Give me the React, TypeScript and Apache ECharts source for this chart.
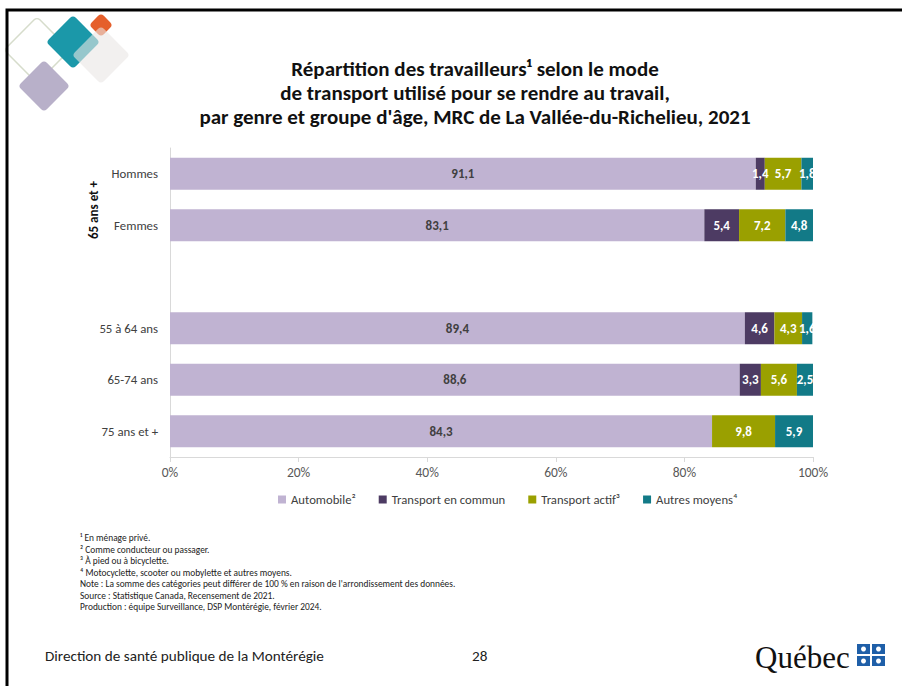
import React, { useEffect, useRef } from "react";
import * as echarts from "echarts";

const categories = ["Hommes", "Femmes", "", "55 à 64 ans", "65-74 ans", "75 ans et +"];
const automobile = [91.1, 83.1, null, 89.4, 88.6, 84.3];
const transportCommun = [1.4, 5.4, null, 4.6, 3.3, null];
const transportActif = [5.7, 7.2, null, 4.3, 5.6, 9.8];
const autresMoyens = [1.8, 4.8, null, 1.6, 2.5, 5.9];
const xTicks = [0, 20, 40, 60, 80, 100];

const seriesNames = ["Automobile²", "Transport en commun", "Transport actif³", "Autres moyens⁴"];
const seriesColors = ["#c0b3d2", "#4d3b63", "#9aa000", "#127a87"];

const footnotes = [
  "¹ En ménage privé.",
  "² Comme conducteur ou passager.",
  "³ À pied ou à bicyclette.",
  "⁴ Motocyclette, scooter ou mobylette et autres moyens.",
  "Note : La somme des catégories peut différer de 100 % en raison de l'arrondissement des données.",
  "Source : Statistique Canada, Recensement de 2021.",
  "Production : équipe Surveillance, DSP Montérégie, février 2024.",
];

const FONT = "Carlito, Calibri, Lato, sans-serif";

function diamond(cx: number, cy: number, half: number, style: any, z = 1) {
  const s = half * Math.SQRT2;
  return {
    type: "rect",
    x: cx,
    y: cy,
    rotation: Math.PI / 4,
    shape: { x: -s / 2, y: -s / 2, width: s, height: s, r: 4 },
    style,
    z,
  };
}

export default function App() {
  const ref = useRef<HTMLDivElement>(null);
  useEffect(() => {
    if (!ref.current) return;
    const chart = echarts.init(ref.current, null, { renderer: "svg" });
    const data = [automobile, transportCommun, transportActif, autresMoyens];
    const fmt = (p: any) => (p.value == null ? "" : String(p.value).replace(".", ","));
    const series = data.map((d, i) => ({
      name: seriesNames[i],
      type: "bar",
      stack: "total",
      data: d,
      barWidth: 32,
      itemStyle: { color: seriesColors[i] },
      label: {
        show: true,
        position: "inside",
        formatter: fmt,
        color: i === 0 ? "#404040" : "#ffffff",
        fontWeight: "bold",
        fontSize: 13,
        fontFamily: FONT,
      },
    }));

    const flagSquares: any[] = [];
    const fx = 857, fy = 644, fs = 13, gap = 2;
    for (let r = 0; r < 2; r++) {
      for (let c = 0; c < 2; c++) {
        const x0 = fx + c * (fs + gap);
        const y0 = fy + r * (10 + gap);
        flagSquares.push({ type: "rect", shape: { x: x0, y: y0, width: fs, height: 10 }, style: { fill: "#1f5fa8" } });
        flagSquares.push({ type: "circle", shape: { cx: x0 + fs / 2, cy: y0 + 5, r: 2.5 }, style: { fill: "#ffffff" } });
      }
    }

    chart.setOption({
      animation: false,
      backgroundColor: "#ffffff",
      title: {
        text: "Répartition des travailleurs¹ selon le mode\nde transport utilisé pour se rendre au travail,\npar genre et groupe d'âge, MRC de La Vallée-du-Richelieu, 2021",
        left: 470,
        top: 52,
        textAlign: "center",
        textStyle: { fontFamily: FONT, fontSize: 21, fontWeight: "bold", color: "#111111", lineHeight: 24 },
      },
      grid: { left: 170, right: 89, top: 148, bottom: 229, containLabel: false },
      legend: {
        bottom: 175,
        left: 273,
        itemWidth: 8,
        itemHeight: 8,
        itemGap: 23,
        icon: "rect",
        textStyle: { fontFamily: FONT, fontSize: 12.7, color: "#404040" },
        data: seriesNames,
      },
      xAxis: {
        type: "value",
        min: 0,
        max: 100,
        interval: 20,
        axisLine: { show: true, lineStyle: { color: "#d9d9d9" } },
        axisTick: { show: true, length: 5, lineStyle: { color: "#d9d9d9" } },
        splitLine: { show: false },
        axisLabel: { formatter: (v: number) => v + "%", fontFamily: FONT, fontSize: 13.5, color: "#595959", margin: 8 },
      },
      yAxis: {
        type: "category",
        data: categories,
        inverse: true,
        axisLine: { show: true, lineStyle: { color: "#d9d9d9" } },
        axisTick: { show: false },
        axisLabel: { fontFamily: FONT, fontSize: 12.8, color: "#404040", margin: 12 },
      },
      series,
      graphic: [
        { type: "rect", shape: { x: 7, y: 10, width: 920, height: 700 }, style: { fill: "none", stroke: "#000000", lineWidth: 3 }, z: 10 },
        diamond(37, 50, 33, { fill: "none", stroke: "#d6dccb", lineWidth: 1.5 }),
        diamond(44, 86, 26, { fill: "#b8b0c9" }),
        diamond(73, 42, 27, { fill: "#1b98a9" }),
        diamond(101, 25, 12, { fill: "#e55f2b" }),
        diamond(101, 55, 29, { fill: "#e9e6e4", opacity: 0.6 }),
        {
          type: "text",
          x: 93,
          y: 210,
          rotation: Math.PI / 2,
          style: { text: "65 ans et +", fontFamily: FONT, fontSize: 13, fontWeight: "bold", fill: "#111111", align: "center", verticalAlign: "middle" },
        },
        ...footnotes.map((t, i) => ({
          type: "text",
          x: 80,
          y: 538 + i * 11.5,
          style: { text: t, fontFamily: FONT, fontSize: 9.4, fill: "#222222", verticalAlign: "middle" },
        })),
        { type: "text", x: 45, y: 656, style: { text: "Direction de santé publique de la Montérégie", fontFamily: FONT, fontSize: 15.2, fill: "#222222", verticalAlign: "middle" } },
        { type: "text", x: 472, y: 656, style: { text: "28", fontFamily: FONT, fontSize: 15.2, fill: "#222222", verticalAlign: "middle" } },
        { type: "text", x: 755, y: 657, style: { text: "Québec", fontFamily: "'Liberation Serif', serif", fontSize: 31, fill: "#111111", verticalAlign: "middle" } },
        ...flagSquares,
      ],
    });
    return () => chart.dispose();
  }, []);
  return <div ref={ref} style={{ position: "absolute", left: 0, top: 0, width: 902, height: 686 }} />;
}
